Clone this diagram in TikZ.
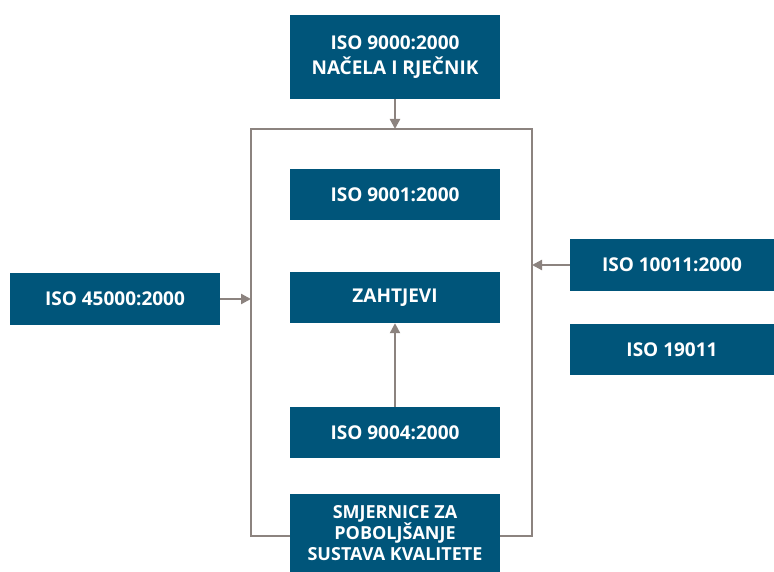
\documentclass[tikz,border=0pt]{standalone}
\usepackage{fontspec}
\setmainfont{Open Sans}
\usetikzlibrary{arrows.meta}
\definecolor{isoblue}{HTML}{00557A}
\definecolor{linegray}{HTML}{8C837F}
\begin{document}
\begin{tikzpicture}[x=1pt,y=-1pt,>={Triangle[width=10pt,length=10pt]},
  box/.style={fill=isoblue,text=white,font=\bfseries\fontsize{19}{25}\selectfont,
    minimum width=210pt,minimum height=51pt,inner sep=0pt,align=center},
  link/.style={draw=linegray,line width=2.2pt}]
\useasboundingbox (0,0) rectangle (774,572);
% okvir
\draw[link] (251,129) rectangle (532,536);
\path
(395,57) node[box,minimum height=84pt] (N) {ISO 9000:2000\\NAČELA I RJEČNIK}
(395,194.5) node[box] (Z1) {ISO 9001:2000}
(395,297.5) node[box] (Z) {ZAHTJEVI}
(395,432.5) node[box] (S1) {ISO 9004:2000}
(395,533) node[box,minimum height=78pt,font=\bfseries\fontsize{18}{21}\selectfont] (S) {SMJERNICE ZA\\POBOLJŠANJE\\SUSTAVA KVALITETE}
(115,299) node[box] (L) {ISO 45000:2000}
(672,265) node[box,minimum width=204pt] (R1) {ISO 10011:2000}
(672,349.5) node[box,minimum width=204pt] (R2) {ISO 19011}
(395,129) coordinate (Ntop)
(251,299) coordinate (Lend)
(532,265) coordinate (Rend)
;
\draw[link,->] (N)--(Ntop);
\draw[link,->] (S1)--(Z);
\draw[link,->] (L)--(Lend);
\draw[link,->] (R1)--(Rend);
\end{tikzpicture}
\end{document}
